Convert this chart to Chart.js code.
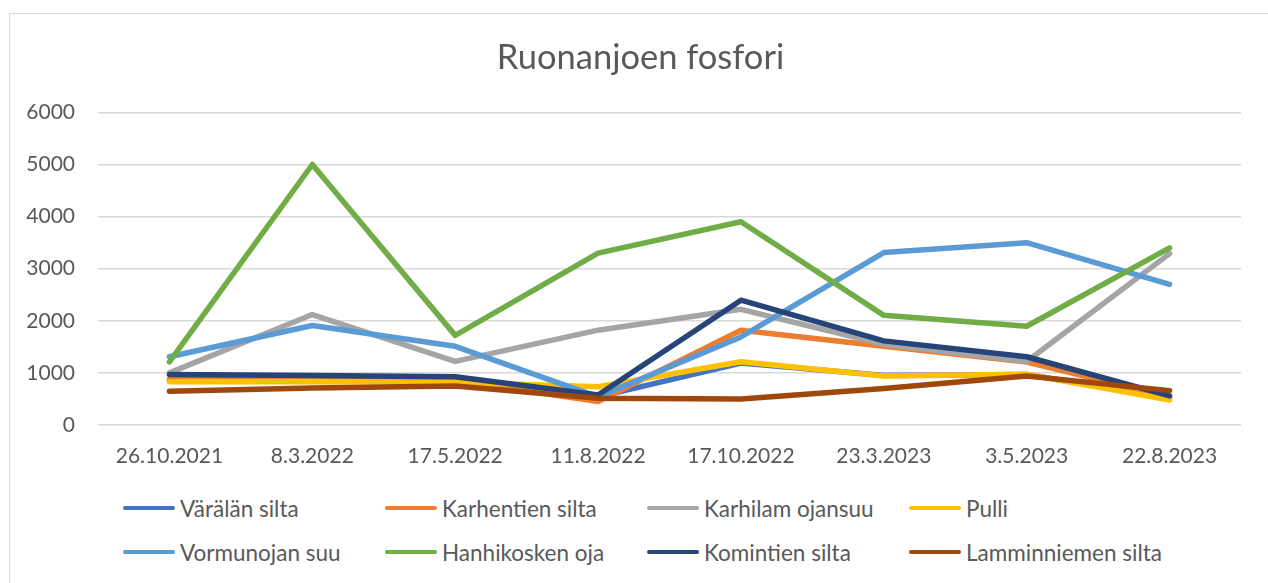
<!DOCTYPE html>
<html>
<head>
<meta charset="utf-8">
<script src="https://cdn.jsdelivr.net/npm/chart.js@4/dist/chart.umd.min.js"></script>
<style>
  html, body { margin: 0; padding: 0; background: #fff; }
  body { width: 1268px; height: 583px; position: relative; overflow: hidden; font-family: Lato, sans-serif; }
  #frame { position: absolute; left: 9px; top: 13px; width: 1300px; height: 600px; border: 1.5px solid #d9d9d9; box-sizing: border-box; }
  #wrap { position: absolute; left: 0; top: 0; width: 1268px; height: 480px; }
  #legend { position: absolute; left: 123px; top: 495px; width: 1100px; display: grid; grid-template-columns: repeat(4, 262px); row-gap: 18px; }
  .item { display: flex; align-items: center; height: 26px; color: #595959; font-size: 22.5px; white-space: nowrap; }
  .swatch { display: inline-block; width: 52px; height: 4.5px; border-radius: 3px; margin-right: 5px; }
</style>
</head>
<body>
<div id="frame"></div>
<div id="wrap"><canvas id="chart" width="1268" height="480"></canvas></div>
<div id="legend"></div>
<script>
const categories = ['26.10.2021', '8.3.2022', '17.5.2022', '11.8.2022', '17.10.2022', '23.3.2023', '3.5.2023', '22.8.2023'];

const seriesNames = ['Värälän silta', 'Karhentien silta', 'Karhilam ojansuu', 'Pulli',
  'Vormunojan suu', 'Hanhikosken oja', 'Komintien silta', 'Lamminniemen silta'];

const varalanSilta = [860, 850, 850, 540, 1190, 950, 970, 520];
const karhentienSilta = [880, 860, 860, 450, 1820, 1510, 1210, 540];
const karhilamOjansuu = [1000, 2120, 1220, 1820, 2220, 1550, 1220, 3290];
const pulli = [830, 830, 820, 735, 1215, 940, 975, 480];
const vormunojanSuu = [1310, 1910, 1510, 540, 1690, 3310, 3500, 2700];
const hanhikoskenOja = [1210, 5000, 1720, 3300, 3900, 2105, 1895, 3400];
const komintienSilta = [970, 950, 925, 575, 2395, 1615, 1310, 560];
const lamminniemenSilta = [650, 710, 750, 515, 500, 700, 940, 660];

const yTicks = [0, 1000, 2000, 3000, 4000, 5000, 6000];

const seriesValues = [varalanSilta, karhentienSilta, karhilamOjansuu, pulli,
  vormunojanSuu, hanhikoskenOja, komintienSilta, lamminniemenSilta];
const colors = ['#4472C4', '#ED7D31', '#A5A5A5', '#FFC000', '#5B9BD5', '#70AD47', '#264478', '#9E480E'];

const textColor = '#595959';

const datasets = seriesNames.map((name, i) => ({
  label: name,
  data: seriesValues[i],
  borderColor: colors[i],
  backgroundColor: colors[i],
  borderWidth: 5.5,
  borderCapStyle: 'round',
  borderJoinStyle: 'round',
  pointRadius: 0,
  tension: 0,
  // later series drawn on top, like the original
  order: seriesNames.length - i
}));

// the title sits a bit right of the canvas centre in the original
const shiftTitle = {
  id: 'shiftTitle',
  afterLayout: (chart) => {
    if (chart.titleBlock) {
      chart.titleBlock.left += 20;
      chart.titleBlock.right += 20;
    }
  }
};

new Chart(document.getElementById('chart').getContext('2d'), {
  type: 'line',
  data: { labels: categories, datasets: datasets },
  plugins: [shiftTitle],
  options: {
    responsive: false,
    animation: false,
    layout: { padding: { left: 0, right: 27, top: 0, bottom: 0 } },
    plugins: {
      legend: { display: false },
      tooltip: { enabled: false },
      title: {
        display: true,
        text: 'Ruonanjoen fosfori',
        color: textColor,
        font: { family: 'Lato', size: 34.5, weight: 'normal', lineHeight: 1.2 },
        padding: { top: 37, bottom: 34 }
      }
    },
    scales: {
      x: {
        offset: true,
        grid: { display: false, drawTicks: false },
        border: { display: false },
        ticks: { color: textColor, font: { family: 'Lato', size: 21 }, padding: 19, maxRotation: 0 },
        afterFit: (scale) => { scale.height = 55; }
      },
      y: {
        min: 0,
        max: 6000,
        afterBuildTicks: (scale) => { scale.ticks = yTicks.map(v => ({ value: v })); },
        grid: { color: '#d9d9d9', lineWidth: 1.5, drawTicks: false },
        border: { display: false },
        ticks: { color: textColor, font: { family: 'Lato', size: 21 }, padding: 23, callback: (v) => String(v) },
        afterFit: (scale) => { scale.width = 98; }
      }
    }
  }
});

const legend = document.getElementById('legend');
seriesNames.forEach((name, i) => {
  const item = document.createElement('div');
  item.className = 'item';
  const sw = document.createElement('span');
  sw.className = 'swatch';
  sw.style.background = colors[i];
  const label = document.createElement('span');
  label.textContent = name;
  item.appendChild(sw);
  item.appendChild(label);
  legend.appendChild(item);
});
</script>
</body>
</html>
